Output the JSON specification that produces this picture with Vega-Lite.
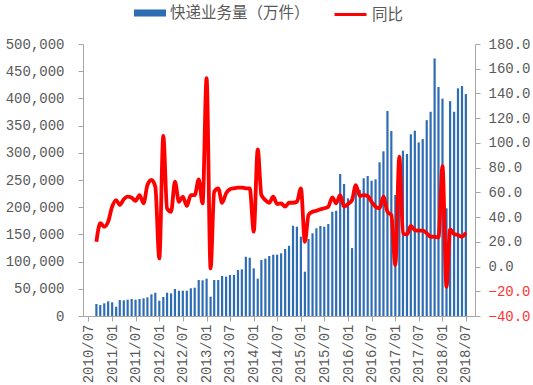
{
  "$schema": "https://vega.github.io/schema/vega-lite/v6.json",
  "width": 392,
  "height": 272,
  "autosize": {"type": "none"},
  "padding": {"left": 83, "top": 44, "right": 58, "bottom": 69},
  "background": "white",
  "config": {
    "view": {"stroke": null},
    "axis": {
      "grid": false,
      "labelFont": "Liberation Mono",
      "labelFontSize": 14,
      "labelColor": "#595959",
      "tickColor": "#a6a6a6",
      "domainColor": "#a6a6a6",
      "tickSize": 5,
      "title": null
    },
    "legend": {
      "labelFont": "Noto Sans CJK SC",
      "labelFontSize": 15,
      "labelColor": "#595959",
      "padding": 0,
      "title": null
    }
  },
  "data": {
    "values": [
      {"date": "2010-09-01", "vol": 22000, "yoy": 20.1},
      {"date": "2010-10-01", "vol": 20200, "yoy": 35.0},
      {"date": "2010-11-01", "vol": 23300, "yoy": 32.2},
      {"date": "2010-12-01", "vol": 27000, "yoy": 36.3},
      {"date": "2011-01-01", "vol": 25200, "yoy": 48.4},
      {"date": "2011-02-01", "vol": 17100, "yoy": 53.8},
      {"date": "2011-03-01", "vol": 29400, "yoy": 49.8},
      {"date": "2011-04-01", "vol": 28800, "yoy": 54.4},
      {"date": "2011-05-01", "vol": 30000, "yoy": 56.5},
      {"date": "2011-06-01", "vol": 31200, "yoy": 55.7},
      {"date": "2011-07-01", "vol": 30000, "yoy": 53.2},
      {"date": "2011-08-01", "vol": 31200, "yoy": 57.8},
      {"date": "2011-09-01", "vol": 32500, "yoy": 51.1},
      {"date": "2011-10-01", "vol": 34300, "yoy": 65.9},
      {"date": "2011-11-01", "vol": 39900, "yoy": 70.0},
      {"date": "2011-12-01", "vol": 42800, "yoy": 64.6},
      {"date": "2012-01-01", "vol": 28100, "yoy": 6.6},
      {"date": "2012-02-01", "vol": 35000, "yoy": 105.6},
      {"date": "2012-03-01", "vol": 42800, "yoy": 47.0},
      {"date": "2012-04-01", "vol": 41700, "yoy": 44.3},
      {"date": "2012-05-01", "vol": 49600, "yoy": 68.6},
      {"date": "2012-06-01", "vol": 46500, "yoy": 52.4},
      {"date": "2012-07-01", "vol": 46500, "yoy": 56.5},
      {"date": "2012-08-01", "vol": 46500, "yoy": 49.0},
      {"date": "2012-09-01", "vol": 50900, "yoy": 57.8},
      {"date": "2012-10-01", "vol": 52000, "yoy": 57.8},
      {"date": "2012-11-01", "vol": 66200, "yoy": 70.5},
      {"date": "2012-12-01", "vol": 65600, "yoy": 51.1},
      {"date": "2013-01-01", "vol": 68600, "yoy": 152.3},
      {"date": "2013-02-01", "vol": 35500, "yoy": -1.5},
      {"date": "2013-03-01", "vol": 66200, "yoy": 60.5},
      {"date": "2013-04-01", "vol": 66200, "yoy": 63.3},
      {"date": "2013-05-01", "vol": 73500, "yoy": 51.6},
      {"date": "2013-06-01", "vol": 72300, "yoy": 59.2},
      {"date": "2013-07-01", "vol": 75400, "yoy": 62.5},
      {"date": "2013-08-01", "vol": 75400, "yoy": 63.3},
      {"date": "2013-09-01", "vol": 84500, "yoy": 63.8},
      {"date": "2013-10-01", "vol": 85700, "yoy": 63.8},
      {"date": "2013-11-01", "vol": 108900, "yoy": 63.3},
      {"date": "2013-12-01", "vol": 107200, "yoy": 63.3},
      {"date": "2014-01-01", "vol": 87600, "yoy": 28.2},
      {"date": "2014-02-01", "vol": 68600, "yoy": 94.8},
      {"date": "2014-03-01", "vol": 103000, "yoy": 57.8},
      {"date": "2014-04-01", "vol": 105400, "yoy": 53.8},
      {"date": "2014-05-01", "vol": 110300, "yoy": 51.6},
      {"date": "2014-06-01", "vol": 112700, "yoy": 56.5},
      {"date": "2014-07-01", "vol": 112700, "yoy": 50.6},
      {"date": "2014-08-01", "vol": 115200, "yoy": 51.1},
      {"date": "2014-09-01", "vol": 123100, "yoy": 48.4},
      {"date": "2014-10-01", "vol": 129200, "yoy": 51.6},
      {"date": "2014-11-01", "vol": 165900, "yoy": 51.6},
      {"date": "2014-12-01", "vol": 164100, "yoy": 52.4},
      {"date": "2015-01-01", "vol": 145800, "yoy": 63.3},
      {"date": "2015-02-01", "vol": 81400, "yoy": 20.0},
      {"date": "2015-03-01", "vol": 141500, "yoy": 41.7},
      {"date": "2015-04-01", "vol": 152000, "yoy": 44.3},
      {"date": "2015-05-01", "vol": 161200, "yoy": 45.1},
      {"date": "2015-06-01", "vol": 165400, "yoy": 46.3},
      {"date": "2015-07-01", "vol": 164100, "yoy": 47.1},
      {"date": "2015-08-01", "vol": 169100, "yoy": 48.4},
      {"date": "2015-09-01", "vol": 191600, "yoy": 56.0},
      {"date": "2015-10-01", "vol": 193500, "yoy": 51.1},
      {"date": "2015-11-01", "vol": 261000, "yoy": 57.8},
      {"date": "2015-12-01", "vol": 242600, "yoy": 48.4},
      {"date": "2016-01-01", "vol": 216300, "yoy": 50.6},
      {"date": "2016-02-01", "vol": 124900, "yoy": 53.8},
      {"date": "2016-03-01", "vol": 237700, "yoy": 65.9},
      {"date": "2016-04-01", "vol": 231600, "yoy": 57.0},
      {"date": "2016-05-01", "vol": 253100, "yoy": 57.8},
      {"date": "2016-06-01", "vol": 257300, "yoy": 57.0},
      {"date": "2016-07-01", "vol": 248700, "yoy": 52.4},
      {"date": "2016-08-01", "vol": 251200, "yoy": 48.4},
      {"date": "2016-09-01", "vol": 282500, "yoy": 47.1},
      {"date": "2016-10-01", "vol": 302700, "yoy": 56.5},
      {"date": "2016-11-01", "vol": 376800, "yoy": 44.3},
      {"date": "2016-12-01", "vol": 340000, "yoy": 41.7},
      {"date": "2017-01-01", "vol": 222400, "yoy": 1.2},
      {"date": "2017-02-01", "vol": 292800, "yoy": 88.8},
      {"date": "2017-03-01", "vol": 303800, "yoy": 26.9},
      {"date": "2017-04-01", "vol": 297800, "yoy": 26.0},
      {"date": "2017-05-01", "vol": 333900, "yoy": 32.8},
      {"date": "2017-06-01", "vol": 340600, "yoy": 29.5},
      {"date": "2017-07-01", "vol": 319100, "yoy": 29.0},
      {"date": "2017-08-01", "vol": 325200, "yoy": 29.0},
      {"date": "2017-09-01", "vol": 360100, "yoy": 26.9},
      {"date": "2017-10-01", "vol": 375400, "yoy": 24.1},
      {"date": "2017-11-01", "vol": 473300, "yoy": 24.1},
      {"date": "2017-12-01", "vol": 421000, "yoy": 23.6},
      {"date": "2018-01-01", "vol": 399500, "yoy": 81.3},
      {"date": "2018-02-01", "vol": 198000, "yoy": -16.3},
      {"date": "2018-03-01", "vol": 395000, "yoy": 30.1},
      {"date": "2018-04-01", "vol": 375400, "yoy": 26.3},
      {"date": "2018-05-01", "vol": 418500, "yoy": 25.5},
      {"date": "2018-06-01", "vol": 422700, "yoy": 24.1},
      {"date": "2018-07-01", "vol": 408000, "yoy": 27.3}
    ]
  },
  "encoding": {
    "x": {
      "field": "date",
      "type": "temporal",
      "scale": {
        "type": "utc",
        "domain": [
          {"year": 2010, "month": 6, "date": 28, "utc": true},
          {"year": 2018, "month": 8, "date": 2, "utc": true}
        ]
      },
      "axis": {
        "orient": "bottom",
        "format": "%Y/%m",
        "labelAngle": -90,
        "labelPadding": 3,
        "labelOverlap": false,
        "labelFlush": false,
        "values": [
          {"year": 2010, "month": 7, "date": 1, "utc": true},
          {"year": 2011, "month": 1, "date": 1, "utc": true},
          {"year": 2011, "month": 7, "date": 1, "utc": true},
          {"year": 2012, "month": 1, "date": 1, "utc": true},
          {"year": 2012, "month": 7, "date": 1, "utc": true},
          {"year": 2013, "month": 1, "date": 1, "utc": true},
          {"year": 2013, "month": 7, "date": 1, "utc": true},
          {"year": 2014, "month": 1, "date": 1, "utc": true},
          {"year": 2014, "month": 7, "date": 1, "utc": true},
          {"year": 2015, "month": 1, "date": 1, "utc": true},
          {"year": 2015, "month": 7, "date": 1, "utc": true},
          {"year": 2016, "month": 1, "date": 1, "utc": true},
          {"year": 2016, "month": 7, "date": 1, "utc": true},
          {"year": 2017, "month": 1, "date": 1, "utc": true},
          {"year": 2017, "month": 7, "date": 1, "utc": true},
          {"year": 2018, "month": 1, "date": 1, "utc": true},
          {"year": 2018, "month": 7, "date": 1, "utc": true}
        ]
      }
    }
  },
  "layer": [
    {
      "mark": {"type": "bar", "width": 2.2},
      "encoding": {
        "y": {
          "field": "vol",
          "type": "quantitative",
          "scale": {"domain": [0, 500000], "nice": false, "zero": true},
          "axis": {
            "orient": "left",
            "format": ",.0f",
            "labelPadding": 14,
            "values": [0, 50000, 100000, 150000, 200000, 250000, 300000, 350000, 400000, 450000, 500000]
          }
        },
        "color": {
          "datum": "快递业务量（万件）",
          "type": "nominal",
          "scale": {"range": ["#2E6DB4"]},
          "legend": {
            "orient": "none",
            "legendX": 51,
            "legendY": -47,
            "symbolType": "M-1,-0.22H1V0.22H-1Z",
            "symbolSize": 1024,
            "symbolStrokeWidth": 0,
            "labelOffset": 4,
            "labelFontSize": 15.5
          }
        }
      }
    },
    {
      "mark": {"type": "line", "interpolate": "monotone", "strokeWidth": 3.8},
      "encoding": {
        "y": {
          "field": "yoy",
          "type": "quantitative",
          "scale": {"domain": [-40, 180], "nice": false, "zero": false},
          "axis": {
            "orient": "right",
            "format": ".1f",
            "labelPadding": 8,
            "values": [-40, -20, 0, 20, 40, 60, 80, 100, 120, 140, 160, 180],
            "labelColor": {"condition": {"test": "datum.value < 0", "value": "#FF3333"}, "value": "#595959"}
          }
        },
        "stroke": {
          "datum": "同比",
          "type": "nominal",
          "scale": {"range": ["#FF0000"]},
          "legend": {
            "orient": "none",
            "legendX": 250,
            "legendY": -47,
            "symbolType": "stroke",
            "symbolSize": 1024,
            "symbolStrokeWidth": 3,
            "labelOffset": 4,
            "labelFontSize": 15.5
          }
        }
      }
    }
  ],
  "resolve": {"scale": {"y": "independent"}}
}
